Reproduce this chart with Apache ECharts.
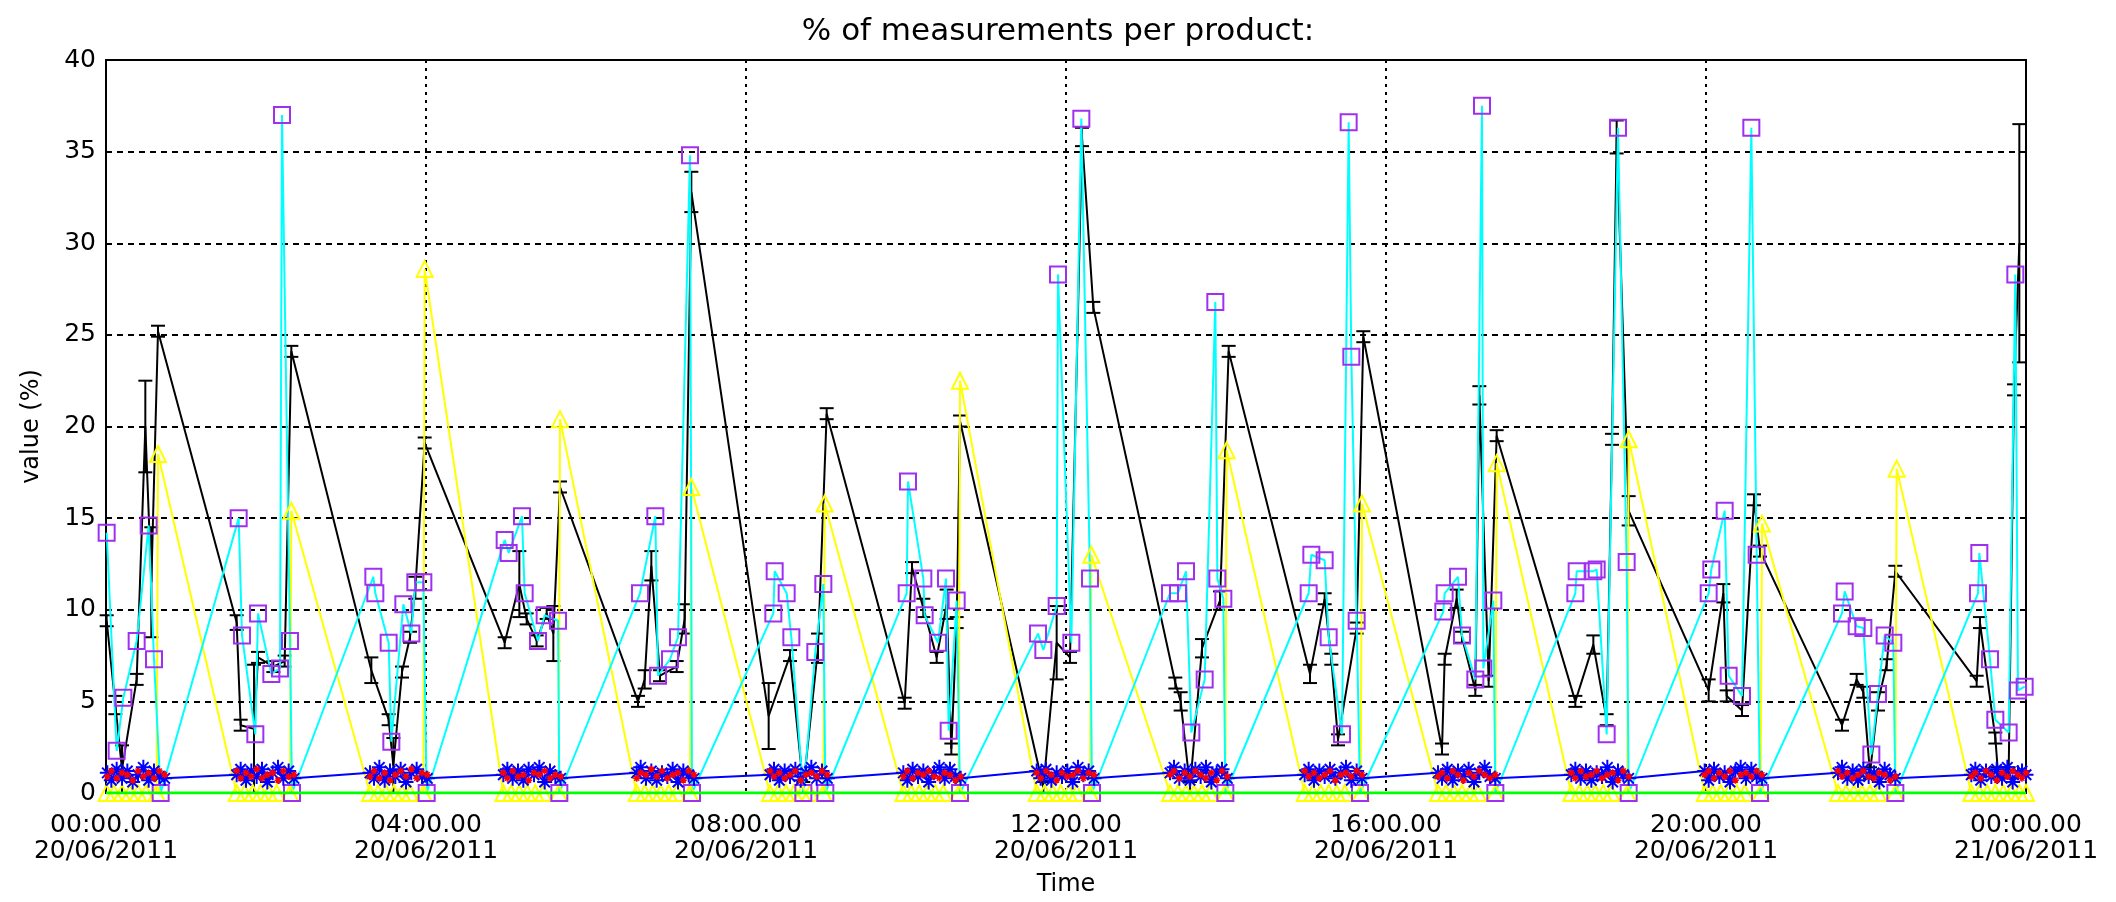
<!DOCTYPE html>
<html>
<head>
<meta charset="utf-8">
<title>% of measurements per product</title>
<script src="https://cdn.jsdelivr.net/npm/echarts@6/dist/echarts.min.js"></script>
<style>
  html, body { margin: 0; padding: 0; background: #fff; }
  #chart { width: 2116px; height: 902px; }
</style>
</head>
<body>
<div id="chart"></div>
<script>
// x axis is minutes since 00:00 20/06/2011
var xTickLabels = ['00:00.00\n20/06/2011', '04:00.00\n20/06/2011', '08:00.00\n20/06/2011',
  '12:00.00\n20/06/2011', '16:00.00\n20/06/2011', '20:00.00\n20/06/2011', '00:00.00\n21/06/2011']

// black product, with error bars
var blackT = [0.5, 7, 12, 23, 29.5, 34, 39,
  98, 101, 111, 114, 125.5, 134, 139,
  199, 212, 215.5, 222, 228, 232, 239,
  299, 310, 315.5, 323, 330.5, 335.5, 340.5,
  399, 404, 409, 415.5, 428, 434, 439,
  497, 513, 523, 534, 540.5,
  599, 604.5, 613, 623, 630.5, 634, 638, 640.5,
  703, 713, 723, 732, 740.5,
  802, 806, 813, 822, 835.5, 842,
  903, 914, 919, 924, 938, 943,
  1002, 1004, 1013, 1017, 1027, 1030, 1037, 1043,
  1102, 1115.5, 1125.5, 1129.5, 1133, 1142,
  1202, 1213, 1215.5, 1227, 1236, 1240.5,
  1302, 1313, 1318, 1323, 1329, 1335.5, 1342,
  1403, 1405.5, 1417, 1419, 1427, 1431, 1435]
var blackV = [9.4, 4.8, 1.3, 6.2, 20.0, 11.5, 25.2,
  9.3, 3.7, 3.5, 7.4, 6.9, 7.2, 24.1,
  6.7, 4.0, 1.5, 6.6, 8.5, 11.2, 19.1,
  8.2, 11.4, 9.5, 8.3, 9.8, 8.7, 16.7,
  5.0, 6.2, 12.4, 6.4, 6.9, 9.5, 32.8,
  4.2, 7.5, 0.3, 7.9, 20.7,
  4.9, 12.3, 10.1, 7.4, 10.3, 2.4, 9.3, 20.3,
  0.3, 8.2, 7.4, 35.8, 26.5,
  6.0, 5.0, 0.3, 7.9, 10.5, 24.1,
  6.5, 10.6, 7.3, 2.9, 9.0, 24.9,
  2.4, 7.3, 10.6, 8.5, 5.6, 21.7, 6.1, 19.5,
  5.0, 8.1, 4.0, 19.3, 35.8, 15.4,
  5.6, 10.9, 5.3, 4.5, 16.0, 13.2,
  3.7, 6.2, 5.5, 1.1, 5.0, 7.0, 12.1,
  6.1, 9.3, 3.0, 1.1, 1.1, 22.0, 30.0]
var blackErr = [0.3, 0.5, 1.3, 0.3, 2.5, 3.0, 0.3,
  0.4, 0.3, 3.5, 0.3, 0.3, 0.3, 0.3,
  0.7, 0.3, 1.5, 0.3, 0.3, 0.6, 0.3,
  0.3, 1.8, 0.3, 0.3, 0.3, 1.5, 0.3,
  0.3, 0.5, 0.8, 0.3, 0.3, 0.8, 1.1,
  1.8, 0.3, 0.3, 0.8, 0.3,
  0.3, 0.3, 0.5, 0.3, 0.8, 0.3, 0.3, 0.3,
  0.3, 2.0, 0.3, 0.5, 0.3,
  0.3, 0.5, 0.3, 0.5, 0.5, 0.3,
  0.5, 0.3, 0.3, 0.3, 0.3, 0.3,
  0.3, 0.3, 0.5, 0.3, 0.3, 0.5, 0.3, 0.3,
  0.3, 0.5, 0.3, 0.3, 0.9, 0.8,
  0.6, 0.5, 0.3, 0.3, 0.3, 0.3,
  0.3, 0.3, 0.3, 0.3, 0.5, 0.3, 0.3,
  0.3, 0.3, 0.3, 0.3, 0.3, 0.3, 6.5]

// cyan product (purple squares)
var cyanT = [0.5, 8, 13, 23, 32, 36, 41,
  99.5, 102, 112, 114, 124, 130.5, 132, 138, 139.5,
  200.5, 202, 212, 214, 223, 229, 232, 238, 240.5,
  299, 302, 312, 314, 324, 329, 339, 340,
  400.5, 412, 414, 423, 429, 438, 439.5,
  500.5, 501.5, 510.5, 514, 523, 532, 538, 539.5,
  600.5, 601.5, 613, 614, 624, 630, 632, 638, 640.5,
  699, 703, 713, 714, 724, 731.5, 738, 739.5,
  798, 804, 810, 814, 824, 832, 833.5, 838, 839.5,
  902, 904, 914, 917, 927, 932, 934, 938, 940.5,
  1003, 1004, 1014, 1017, 1027, 1032, 1033, 1040.5, 1042,
  1102, 1103, 1115.5, 1118, 1125.5, 1134, 1140.5, 1142,
  1202, 1204, 1214, 1217, 1227, 1234, 1238, 1240.5,
  1302, 1304, 1313, 1318, 1324, 1329, 1334, 1340.5, 1342,
  1404, 1405, 1413, 1417, 1427, 1432, 1434, 1439]
var cyanV = [14.2, 2.3, 5.2, 8.3, 14.6, 7.3, 0,
  15.0, 8.6, 3.2, 9.8, 6.5, 6.8, 37.0, 8.3, 0,
  11.8, 10.9, 8.2, 2.8, 10.3, 8.7, 11.5, 11.5, 0,
  13.8, 13.1, 15.1, 10.9, 8.3, 9.7, 9.4, 0,
  10.9, 15.1, 6.4, 7.3, 8.5, 34.8, 0,
  9.8, 12.1, 10.9, 8.5, 0, 7.7, 11.4, 0,
  10.9, 17.0, 11.7, 9.7, 8.2, 11.7, 3.4, 10.5, 0,
  8.7, 7.8, 10.2, 28.3, 8.2, 36.8, 11.7, 0,
  10.9, 10.9, 12.1, 3.3, 6.2, 26.8, 11.7, 10.6, 0,
  10.9, 13.0, 12.7, 8.5, 3.2, 36.6, 23.8, 9.4, 0,
  9.9, 10.9, 11.8, 8.6, 6.2, 37.5, 6.8, 10.5, 0,
  10.9, 12.1, 12.1, 12.2, 3.2, 36.3, 12.6, 0,
  10.9, 12.2, 15.4, 6.4, 5.3, 36.3, 13.0, 0,
  9.8, 11.0, 9.1, 9.0, 2.1, 5.4, 8.6, 8.2, 0,
  10.9, 13.1, 7.3, 4.0, 3.3, 28.3, 5.6, 5.8]

// yellow product (triangles)
var yellowT = [0.5, 6, 12, 18, 24, 30, 38, 39,
  98, 104, 110, 116, 122, 128, 138, 139,
  198, 204, 210, 216, 222, 228, 238, 239,
  298, 304, 310, 316, 322, 328, 339.5, 340.5,
  398, 404, 410, 416, 422, 428, 438, 439,
  498, 504, 510, 516, 522, 528, 538, 539,
  598, 604, 610, 616, 622, 628, 639.5, 640.5,
  698, 704, 710, 716, 722, 728, 738, 739,
  798, 804, 810, 816, 822, 828, 839.5, 840.5,
  899, 905, 911, 917, 923, 929, 941, 942,
  999, 1005, 1011, 1017, 1023, 1029, 1042, 1043,
  1099, 1105, 1111, 1117, 1123, 1129, 1141, 1142,
  1199, 1205, 1211, 1217, 1223, 1229, 1241, 1242,
  1299, 1305, 1311, 1317, 1323, 1329, 1342, 1343,
  1399, 1405, 1411, 1417, 1423, 1429, 1435, 1440]
var yellowV = [0, 0, 0, 0, 0, 0, 0, 18.5,
  0, 0, 0, 0, 0, 0, 0, 15.4,
  0, 0, 0, 0, 0, 0, 0, 28.6,
  0, 0, 0, 0, 0, 0, 0, 20.4,
  0, 0, 0, 0, 0, 0, 0, 16.7,
  0, 0, 0, 0, 0, 0, 0, 15.8,
  0, 0, 0, 0, 0, 0, 0, 22.5,
  0, 0, 0, 0, 0, 0, 0, 13.0,
  0, 0, 0, 0, 0, 0, 0, 18.7,
  0, 0, 0, 0, 0, 0, 0, 15.8,
  0, 0, 0, 0, 0, 0, 0, 18.0,
  0, 0, 0, 0, 0, 0, 0, 19.3,
  0, 0, 0, 0, 0, 0, 0, 14.7,
  0, 0, 0, 0, 0, 0, 0, 17.7,
  0, 0, 0, 0, 0, 0, 0, 0]

// small products near the bottom, sampled in each measurement burst
var smallT = [1, 4, 8, 12, 16, 20, 24, 28, 32, 36, 40, 44,
  98, 101, 105, 109, 113, 117, 121, 125, 129, 133, 137, 141,
  198, 201, 205, 209, 213, 217, 221, 225, 229, 233, 237, 241,
  298, 301, 305, 309, 313, 317, 321, 325, 329, 333, 337, 341,
  398, 401, 405, 409, 413, 417, 421, 425, 429, 433, 437, 441,
  498, 501, 505, 509, 513, 517, 521, 525, 529, 533, 537, 541,
  598, 601, 605, 609, 613, 617, 621, 625, 629, 633, 637, 641,
  698, 701, 705, 709, 713, 717, 721, 725, 729, 733, 737, 741,
  798, 801, 805, 809, 813, 817, 821, 825, 829, 833, 837, 841,
  899, 902, 906, 910, 914, 918, 922, 926, 930, 934, 938, 942,
  999, 1002, 1006, 1010, 1014, 1018, 1022, 1026, 1030, 1034, 1038, 1042,
  1099, 1102, 1106, 1110, 1114, 1118, 1122, 1126, 1130, 1134, 1138, 1142,
  1199, 1202, 1206, 1210, 1214, 1218, 1222, 1226, 1230, 1234, 1238, 1242,
  1299, 1302, 1306, 1310, 1314, 1318, 1322, 1326, 1330, 1334, 1338, 1342,
  1399, 1402, 1406, 1410, 1414, 1418, 1422, 1426, 1430, 1434, 1437, 1440]
var blueV = [1.1, 0.7, 1.3, 0.8, 1.2, 0.6, 1.0, 1.4, 0.7, 1.2, 0.9, 0.8,
  1.0, 1.3, 0.7, 1.2, 0.9, 1.3, 0.6, 1.1, 1.4, 0.8, 1.2, 0.8,
  1.1, 0.8, 1.4, 0.7, 1.2, 0.9, 1.3, 0.6, 1.1, 1.3, 0.9, 0.8,
  1.0, 1.3, 0.8, 1.2, 0.7, 1.3, 1.0, 1.4, 0.6, 1.2, 0.9, 0.8,
  1.1, 1.4, 0.8, 1.2, 0.7, 1.1, 0.9, 1.3, 0.6, 1.2, 1.0, 0.8,
  1.0, 1.3, 0.7, 1.2, 0.9, 1.3, 0.7, 1.1, 1.4, 0.8, 1.2, 0.8,
  1.1, 0.7, 1.3, 0.9, 1.2, 0.6, 1.1, 1.4, 0.8, 1.3, 0.9, 0.8,
  1.2, 0.8, 1.3, 0.7, 1.1, 0.9, 1.2, 0.6, 1.4, 1.0, 1.2, 0.8,
  1.1, 1.4, 0.8, 1.2, 0.7, 1.3, 0.9, 1.4, 0.6, 1.1, 1.3, 0.8,
  1.0, 1.3, 0.7, 1.2, 0.9, 1.3, 0.8, 1.1, 1.4, 0.7, 1.2, 0.8,
  1.1, 0.8, 1.3, 0.7, 1.2, 0.9, 1.3, 0.6, 1.1, 1.4, 0.9, 0.8,
  1.0, 1.3, 0.8, 1.2, 0.7, 1.1, 0.9, 1.4, 0.6, 1.2, 1.0, 0.8,
  1.2, 0.7, 1.3, 0.9, 1.1, 0.6, 1.2, 1.4, 0.8, 1.3, 0.9, 0.8,
  1.1, 1.4, 0.8, 1.2, 0.7, 1.3, 0.9, 1.1, 0.6, 1.3, 1.0, 0.8,
  1.0, 1.3, 0.7, 1.2, 0.9, 1.3, 0.8, 1.4, 0.6, 1.1, 1.2, 1.0]
var redV = [0.9, 1.2, 0.8, 1.1, 1.0, 0.7, 1.2, 0.9, 1.1, 0.8, 1.2, 1.0,
  1.2, 0.8, 1.1, 0.9, 1.3, 0.8, 1.0, 1.1, 0.7, 1.2, 0.9, 1.0,
  0.9, 1.2, 0.8, 1.1, 0.7, 1.0, 1.2, 0.9, 1.3, 0.8, 1.1, 1.0,
  1.1, 0.8, 1.2, 0.9, 1.0, 0.7, 1.1, 1.0, 1.2, 0.8, 1.0, 0.9,
  0.8, 1.1, 1.0, 1.3, 0.9, 1.2, 0.8, 1.0, 1.1, 0.7, 1.2, 1.0,
  1.2, 0.9, 1.1, 0.8, 1.0, 1.2, 0.7, 1.0, 1.1, 0.9, 1.2, 1.0,
  0.9, 1.2, 0.8, 1.1, 1.0, 1.2, 0.9, 0.8, 1.1, 1.0, 0.7, 0.9,
  1.1, 0.8, 1.2, 1.0, 0.7, 1.1, 0.9, 1.0, 1.2, 0.8, 1.1, 1.0,
  1.0, 1.2, 0.8, 1.1, 0.9, 1.2, 1.0, 0.8, 1.1, 0.7, 1.2, 0.9,
  1.2, 0.9, 1.1, 0.8, 1.0, 1.2, 0.7, 1.0, 1.1, 0.9, 1.2, 1.0,
  0.9, 1.1, 0.8, 1.2, 1.0, 0.7, 1.1, 0.9, 1.2, 1.0, 0.8, 1.0,
  1.1, 0.8, 1.2, 0.9, 1.0, 1.2, 0.8, 1.0, 1.1, 0.7, 1.2, 0.9,
  1.0, 1.2, 0.8, 1.1, 0.9, 1.2, 0.7, 1.0, 1.1, 0.9, 1.2, 1.0,
  1.2, 0.9, 1.1, 0.8, 1.0, 1.2, 0.9, 0.8, 1.1, 1.0, 0.7, 0.9,
  0.9, 1.1, 0.8, 1.2, 1.0, 0.7, 1.1, 0.9, 1.2, 1.0, 0.8, 1.1]

// green product stays at zero all day
var greenT = [0, 1440]
var greenV = [0, 0]

var FONT = '"DejaVu Sans", sans-serif'
var ASTERISK = 'path://M0,5L10,5M5,0L5,10M1.5,1.5L8.5,8.5M8.5,1.5L1.5,8.5'

function pairs (ts, vs) {
  return ts.map(function (t, i) { return [t, vs[i]] })
}

// [time, low, high] for the error bars of the black product
var blackErrData = blackT.map(function (t, i) {
  return [t, Math.max(0, blackV[i] - blackErr[i]), blackV[i] + blackErr[i]]
})

function renderErrorBar (params, api) {
  var lo = api.coord([api.value(0), api.value(1)])
  var hi = api.coord([api.value(0), api.value(2)])
  var w = 7
  var style = { stroke: '#000', lineWidth: 2 }
  return {
    type: 'group',
    children: [
      { type: 'line', shape: { x1: lo[0], y1: lo[1], x2: hi[0], y2: hi[1] }, style: style },
      { type: 'line', shape: { x1: lo[0] - w, y1: lo[1], x2: lo[0] + w, y2: lo[1] }, style: style },
      { type: 'line', shape: { x1: hi[0] - w, y1: hi[1], x2: hi[0] + w, y2: hi[1] }, style: style }
    ]
  }
}

var chart = echarts.init(document.getElementById('chart'))
var option = {
  animation: false,
  backgroundColor: '#fff',
  title: {
    text: '% of measurements per product:',
    left: 'center',
    top: 16,
    padding: [0, 0, 0, 16],
    textStyle: { fontFamily: FONT, fontSize: 31, fontWeight: 'normal', color: '#000' }
  },
  grid: {
    left: 106,
    right: 90,
    top: 60,
    bottom: 109,
    show: true,
    borderColor: '#000',
    borderWidth: 2,
    outerBoundsMode: 'none'
  },
  xAxis: {
    type: 'value',
    min: 0,
    max: 1440,
    interval: 240,
    name: 'Time',
    nameLocation: 'middle',
    nameGap: 80,
    nameTextStyle: { fontFamily: FONT, fontSize: 24, color: '#000' },
    axisLine: { show: false },
    axisTick: { show: false },
    axisLabel: {
      formatter: function (v) { return xTickLabels[Math.round(v / 240)] },
      margin: 19,
      fontFamily: FONT,
      fontSize: 25,
      lineHeight: 26,
      color: '#000',
      showMinLabel: true,
      showMaxLabel: true
    },
    splitLine: { show: true, lineStyle: { color: '#000', width: 2, type: [3, 5] } }
  },
  yAxis: {
    type: 'value',
    min: 0,
    max: 40,
    interval: 5,
    name: 'value (%)',
    nameLocation: 'middle',
    nameGap: 62,
    nameTextStyle: { fontFamily: FONT, fontSize: 24, color: '#000' },
    axisLine: { show: false },
    axisTick: { show: false },
    axisLabel: { margin: 10, fontFamily: FONT, fontSize: 25, color: '#000' },
    splitLine: { show: true, lineStyle: { color: '#000', width: 2, type: [6, 5] } }
  },
  series: [
    {
      name: 'black',
      type: 'line',
      data: pairs(blackT, blackV),
      showSymbol: false,
      lineStyle: { color: '#000', width: 2 }
    },
    {
      name: 'black error',
      type: 'custom',
      renderItem: renderErrorBar,
      data: blackErrData,
      encode: { x: 0, y: [1, 2] }
    },
    {
      name: 'yellow',
      type: 'line',
      data: pairs(yellowT, yellowV),
      symbol: 'triangle',
      symbolSize: 16,
      showAllSymbol: true,
      lineStyle: { color: '#ffff00', width: 2 },
      itemStyle: { color: 'rgba(0,0,0,0)', borderColor: '#ffff00', borderWidth: 2 }
    },
    {
      name: 'cyan',
      type: 'line',
      data: pairs(cyanT, cyanV),
      symbol: 'rect',
      symbolSize: 16,
      showAllSymbol: true,
      lineStyle: { color: '#00ffff', width: 2 },
      itemStyle: { color: 'rgba(0,0,0,0)', borderColor: '#a030f0', borderWidth: 2 }
    },
    {
      name: 'blue',
      type: 'line',
      data: pairs(smallT, blueV),
      symbol: ASTERISK,
      symbolSize: 15,
      showAllSymbol: true,
      lineStyle: { color: '#0000ff', width: 2 },
      itemStyle: { color: '#0000ff', borderColor: '#0000ff', borderWidth: 2 }
    },
    {
      name: 'red',
      type: 'scatter',
      z: 4,
      data: pairs(smallT, redV),
      symbol: ASTERISK,
      symbolSize: 7,
      itemStyle: { color: '#ff0000', borderColor: '#ff0000', borderWidth: 1.5, opacity: 1 }
    },
    {
      name: 'green',
      type: 'line',
      z: 5,
      data: pairs(greenT, greenV),
      showSymbol: false,
      lineStyle: { color: '#00ff00', width: 3 }
    }
  ]
}
chart.setOption(option)
</script>
</body>
</html>
